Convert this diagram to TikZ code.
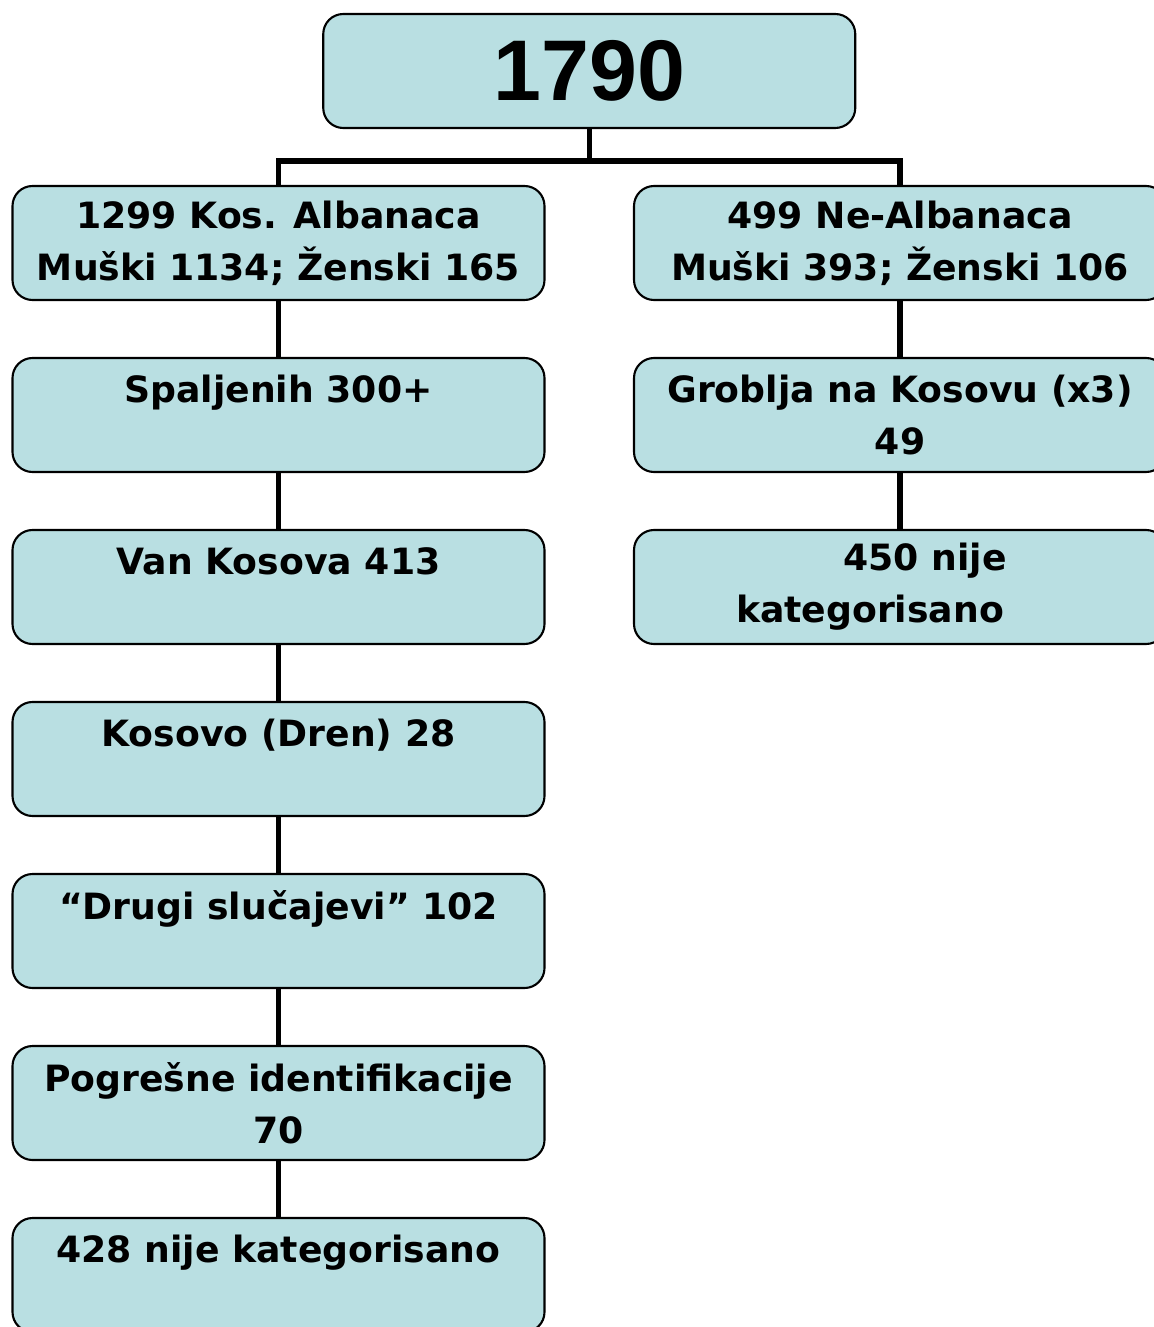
\documentclass[tikz,border=0pt]{standalone}
\usepackage{fontspec}
\newfontfamily\boxfont{DejaVu Sans}
\newfontfamily\rootfont{Liberation Sans}
\definecolor{boxblue}{RGB}{185,223,226}
\tikzset{
    box/.style={draw,rounded corners=0.4cm,fill=boxblue,line width=1.2pt,
        minimum width=10.64cm,minimum height=2.28cm,align=center,
        execute at begin node={\rule{0pt}{30pt}},
        font=\boxfont\bfseries\fontsize{20.6}{29.6}\selectfont},
}
\begin{document}
\begin{tikzpicture}[level distance=3.44cm,
        level 1/.style={sibling distance=12.43cm,
            edge from parent path={(\tikzparentnode.south) -- ++(0,-0.64) -| (\tikzchildnode.north)}},
        edge from parent/.style={draw,line width=3pt},
        every node/.style={box}]
    \useasboundingbox (0,0) rectangle (23.06,-26.54);
    \node (total) at (11.785,-1.42) [font=\rootfont\bfseries\fontsize{49}{55}\selectfont] {1790}
    child {
        node (alb) {1299 Kos. Albanaca\\Muški 1134; Ženski 165}
        child {
            node (burned) {Spaljenih 300+\\\mbox{}}
            child {
                node (outside) {Van Kosova 413\\\mbox{}}
                child {
                    node (dren) {Kosovo (Dren) 28\\\mbox{}}
                    child {
                        node (other) {“Drugi slučajevi” 102\\\mbox{}}
                        child {
                            node (misid) {Pogrešne identifikacije\\70}
                            child {
                                node (uncatL) {428 nije kategorisano\\\mbox{}}
                            }
                        }
                    }
                }
            }
        }
    }
    child {
        node (nonalb) {499 Ne-Albanaca\\Muški 393; Ženski 106}
        child {
            node (graves) {Groblja na Kosovu (x3)\\49}
            child {
                node (uncatR) {\hspace*{1cm}450 nije\\kategorisano\hspace*{1.2cm}}
            }
        }
    };
\end{tikzpicture}
\end{document}
